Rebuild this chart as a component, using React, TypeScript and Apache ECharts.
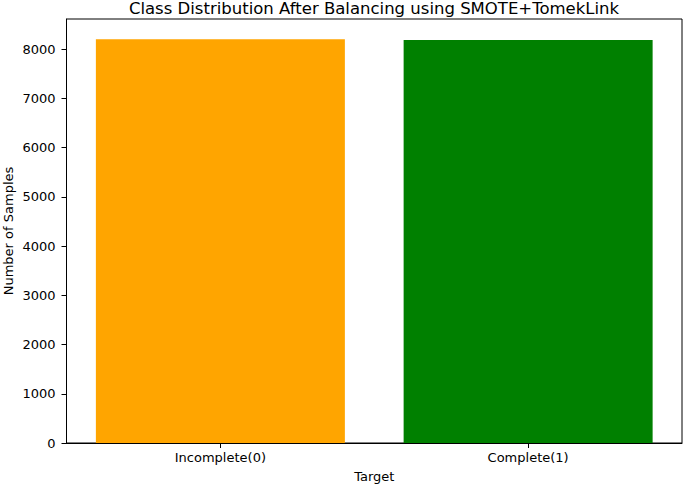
import React, { useEffect, useRef } from "react";
import * as echarts from "echarts";

const categories = ["Incomplete(0)", "Complete(1)"];
const sampleCounts = [8205, 8190];
const barColors = ["#FFA500", "#008000"];
const yTicks = [0, 1000, 2000, 3000, 4000, 5000, 6000, 7000, 8000];
const titleText = "Class Distribution After Balancing using SMOTE+TomekLink";
const xName = "Target";
const yName = "Number of Samples";

const FONT = "DejaVu Sans";

export default function App() {
  const ref = useRef<HTMLDivElement>(null);
  useEffect(() => {
    if (!ref.current) return;
    const chart = echarts.init(ref.current, null, { renderer: "svg" });
    const yMax = Math.max(...sampleCounts) * 1.05;
    chart.setOption({
      animation: false,
      backgroundColor: "#ffffff",
      title: {
        text: titleText,
        left: 374,
        textAlign: "center",
        top: 0,
        padding: 0,
        textStyle: { fontFamily: FONT, fontSize: 16.5, fontWeight: "normal", color: "#000" },
      },
      grid: {
        left: 66.5,
        right: 3,
        top: 19,
        bottom: 41,
        show: true,
        borderColor: "#000",
        borderWidth: 1,
        backgroundColor: "transparent",
        containLabel: false,
        outerBoundsMode: "none",
      },
      xAxis: {
        type: "category",
        data: categories,
        name: xName,
        nameLocation: "middle",
        nameGap: 27,
        nameTextStyle: { fontFamily: FONT, fontSize: 13, color: "#000" },
        axisLine: { show: true, lineStyle: { color: "#000", width: 1 } },
        axisTick: { show: true, alignWithLabel: true, length: 5, lineStyle: { color: "#000" } },
        axisLabel: { fontFamily: FONT, fontSize: 13, color: "#000", margin: 8 },
        splitLine: { show: false },
      },
      yAxis: {
        type: "value",
        min: 0,
        max: yMax,
        interval: 1000,
        name: yName,
        nameLocation: "middle",
        nameGap: 52,
        nameMoveOverlap: false,
        nameTextStyle: { fontFamily: FONT, fontSize: 13, color: "#000" },
        axisLine: { show: true, lineStyle: { color: "#000", width: 1 } },
        axisTick: { show: true, length: 5, lineStyle: { color: "#000" }, customValues: yTicks },
        axisLabel: {
          fontFamily: FONT,
          fontSize: 13,
          color: "#000",
          margin: 11,
          customValues: yTicks,
          formatter: (v: number) => String(v),
        },
        splitLine: { show: false },
      },
      series: [
        {
          type: "bar",
          barWidth: 249,
          data: sampleCounts.map((v, i) => ({ value: v, itemStyle: { color: barColors[i] } })),
        },
      ],
    });
    return () => chart.dispose();
  }, []);
  return <div ref={ref} style={{ width: 685, height: 484, position: "absolute", left: 0, top: 0 }} />;
}
